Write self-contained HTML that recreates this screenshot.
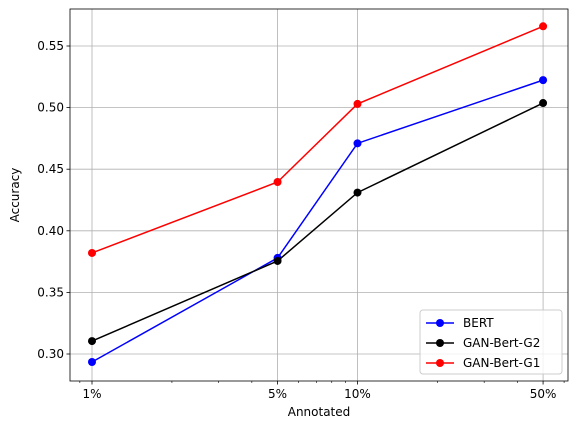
<!DOCTYPE html>
<html><head><meta charset="utf-8">
<style>body{margin:0;background:#fff}svg{display:block;font-family:"DejaVu Sans","Liberation Sans",sans-serif}</style>
</head><body>
<svg id="chart" width="575" height="432" viewBox="0 0 575 432"></svg>
<script>
const categories = [1, 5, 10, 50];
const tickLabels = ["1%", "5%", "10%", "50%"];
const yTicks = [0.30, 0.35, 0.40, 0.45, 0.50, 0.55];
const bertValues = [0.2935, 0.378, 0.471, 0.5223];
const g2Values = [0.3105, 0.3755, 0.431, 0.5037];
const g1Values = [0.382, 0.4396, 0.503, 0.566];
const seriesNames = ["BERT", "GAN-Bert-G2", "GAN-Bert-G1"];

const NS = "http://www.w3.org/2000/svg";
const svg = document.getElementById("chart");
const L = 70, R = 568, T = 9, B = 381;
function xs(v){ return 92 + Math.log10(v) * 265.5; }
function ys(v){ return 354 - (v - 0.30) * 1232; }
function mk(tag, attrs, parent){ const e = document.createElementNS(NS, tag); for (const k in attrs) e.setAttribute(k, attrs[k]); (parent||svg).appendChild(e); return e; }

categories.forEach((c,i)=>{
  const g = mk("line",{x1:xs(c),x2:xs(c),y1:T,y2:B,stroke:"#b0b0b0","stroke-width":0.8});
  
  
});
yTicks.forEach(v=>{
  const g = mk("line",{x1:L,x2:R,y1:ys(v),y2:ys(v),stroke:"#b0b0b0","stroke-width":0.8});
  
  
});
categories.forEach((c,i)=>{
  mk("line",{x1:xs(c),x2:xs(c),y1:B,y2:B+3.5,stroke:"#000","stroke-width":0.8});
  const t = mk("text",{x:xs(c),y:B+17,"font-size":12,"text-anchor":"middle"});
  t.textContent = tickLabels[i];
  
  
});
[0.9,2,3,4,6,7,8,9,20,30,40,60].forEach(m=>{
  const x = xs(m); if (x < L || x > R) return;
  mk("line",{x1:x,x2:x,y1:B,y2:B+2,stroke:"#000","stroke-width":0.6});
});
yTicks.forEach(v=>{
  mk("line",{x1:L-3.5,x2:L,y1:ys(v),y2:ys(v),stroke:"#000","stroke-width":0.8});
  const t = mk("text",{x:L-6,y:ys(v)+4,"font-size":12,"text-anchor":"end"});
  t.textContent = v.toFixed(2);
  
  
});
const series = [[bertValues,"#0000ff","bert"],[g2Values,"#000000","gan-bert-g2"],[g1Values,"#ff0000","gan-bert-g1"]];
series.forEach(([vals,col,nm])=>{
  const p = mk("polyline",{points:vals.map((v,i)=>xs(categories[i])+","+ys(v)).join(" "),fill:"none",stroke:col,"stroke-width":1.5});
  
  
  vals.forEach((v,i)=>{
    const c = mk("circle",{cx:xs(categories[i]),cy:ys(v),r:4,fill:col});
    
    
  });
});
const f = mk("rect",{x:L,y:T,width:R-L,height:B-T,fill:"none",stroke:"#000","stroke-width":0.8});


const xt = mk("text",{x:(L+R)/2,y:416,"font-size":12,"text-anchor":"middle"});
xt.textContent = "Annotated";


const yt = mk("text",{x:19,y:(T+B)/2,"font-size":12,"text-anchor":"middle",transform:"rotate(-90 19 "+((T+B)/2)+")"});
yt.textContent = "Accuracy";


const lg = mk("g",{});


mk("rect",{x:420,y:310,width:142,height:64,rx:3,fill:"#fff","fill-opacity":0.8,stroke:"#ccc"},lg);
series.forEach(([vals,col,nm],i)=>{
  const y = 323 + i*20;
  const e = mk("g",{},lg);
  
  
  mk("line",{x1:426,x2:454,y1:y,y2:y,stroke:col,"stroke-width":1.5},e);
  mk("circle",{cx:440,cy:y,r:4,fill:col},e);
  const t = mk("text",{x:463,y:y+4,"font-size":12},e);
  t.textContent = seriesNames[i];
});
</script>
</body></html>
